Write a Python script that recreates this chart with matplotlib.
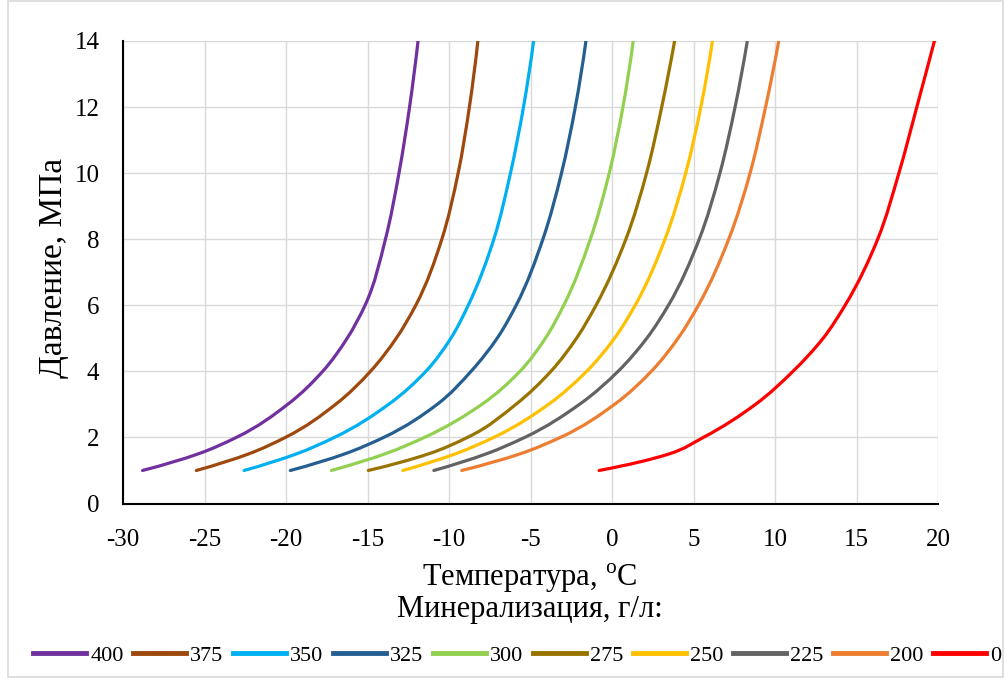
import matplotlib
matplotlib.use("Agg")
import matplotlib.pyplot as plt
from matplotlib.patches import Rectangle, PathPatch
from matplotlib.path import Path
from matplotlib.lines import Line2D

plt.rcParams['font.family'] = ['Liberation Serif', 'DejaVu Serif']
plt.rcParams['mathtext.fontset'] = 'custom'
plt.rcParams['mathtext.rm'] = 'Liberation Serif'
plt.rcParams['axes.unicode_minus'] = False

# Pressure levels (MPa) at which temperatures were read
pressure = [1, 1.5, 2, 3, 4, 5, 6, 8, 10, 12, 14]

# Temperature (°C) for each mineralization (g/l)
t_400 = [-28.8, -25.4, -23.05, -19.9, -17.75, -16.25, -15.15, -13.9, -13.07, -12.42, -11.9]
t_375 = [-25.5, -22.3, -20.04, -16.96, -14.82, -13.24, -12.04, -10.44, -9.44, -8.75, -8.23]
t_350 = [-22.57, -19.37, -17.03, -13.71, -11.42, -9.89, -8.82, -7.25, -6.23, -5.43, -4.81]
t_325 = [-19.73, -16.41, -14.01, -10.73, -8.65, -7.05, -5.88, -4.24, -3.1, -2.25, -1.6]
t_300 = [-17.22, -13.94, -11.51, -7.99, -5.65, -4.09, -2.96, -1.33, -0.17, 0.67, 1.3]
t_275 = [-14.95, -11.27, -8.87, -5.9, -3.75, -2.18, -0.98, 0.85, 2.12, 3.05, 3.84]
t_250 = [-12.83, -9.63, -7.26, -3.9, -1.56, 0.15, 1.42, 3.25, 4.52, 5.45, 6.16]
t_225 = [-10.93, -7.73, -5.36, -2.0, 0.37, 2.13, 3.46, 5.35, 6.62, 7.55, 8.3]
t_200 = [-9.22, -5.66, -3.17, 0.15, 2.41, 4.05, 5.3, 7.16, 8.47, 9.42, 10.23]
t_0 = [-0.79, 3.5, 5.6, 8.8, 11.1, 12.95, 14.3, 16.3, 17.6, 18.7, 19.78]

series_labels = ['400', '375', '350', '325', '300', '275', '250', '225', '200', '0']
series_temps = [t_400, t_375, t_350, t_325, t_300, t_275, t_250, t_225, t_200, t_0]
colors = ['#7030A0', '#9E480E', '#00B0F0', '#255E91', '#92D050',
          '#997300', '#FFC000', '#636363', '#ED7D31', '#FF0000']

x_ticks = [-30, -25, -20, -15, -10, -5, 0, 5, 10, 15, 20]
y_ticks = [0, 2, 4, 6, 8, 10, 12, 14]


def smooth_path(ts, ps):
    """Smoothed line (like Excel's smoothed scatter line) through the read points."""
    n = len(ps)
    h = [ps[i + 1] - ps[i] for i in range(n - 1)]
    s = [(ts[i + 1] - ts[i]) / h[i] for i in range(n - 1)]
    d = [0.0] * n
    for i in range(1, n - 1):
        d[i] = (s[i] * h[i - 1] + s[i - 1] * h[i]) / (h[i - 1] + h[i])
    d0 = ((2 * h[0] + h[1]) * s[0] - h[0] * s[1]) / (h[0] + h[1])
    d[0] = min(max(d0, 0.0), 3 * s[0])
    dn = ((2 * h[-1] + h[-2]) * s[-1] - h[-1] * s[-2]) / (h[-1] + h[-2])
    d[-1] = min(max(dn, 0.0), 3 * s[-1])
    verts = [(ts[0], ps[0])]
    codes = [Path.MOVETO]
    for i in range(n - 1):
        verts.append((ts[i] + d[i] * h[i] / 3, ps[i] + h[i] / 3))
        verts.append((ts[i + 1] - d[i + 1] * h[i] / 3, ps[i + 1] - h[i] / 3))
        verts.append((ts[i + 1], ps[i + 1]))
        codes += [Path.CURVE4] * 3
    return Path(verts, codes)


fig = plt.figure(figsize=(10.05, 6.78), dpi=100)
ax = fig.add_axes([123/1005, 1 - 503.5/678, (938-123)/1005, (503.5-41)/678])

handles = []
for lab, temps, c in zip(series_labels, series_temps, colors):
    patch = PathPatch(smooth_path(temps, pressure), facecolor='none',
                      edgecolor=c, lw=2.3, capstyle='round', joinstyle='round')
    ax.add_patch(patch)
    handles.append(Line2D([], [], color=c, lw=3.5, label=lab))

ax.set_xlim(-30, 20)
ax.set_ylim(0, 14)
ax.set_xticks(x_ticks)
ax.set_yticks(y_ticks)
ax.grid(True, color='#D9D9D9', lw=1.0)
ax.set_axisbelow(True)
for s in ['top', 'right']:
    ax.spines[s].set_visible(False)
for s in ['left', 'bottom']:
    ax.spines[s].set_color('black')
    ax.spines[s].set_linewidth(1.5)
ax.tick_params(axis='x', length=0, labelsize=18, pad=18)
ax.tick_params(axis='y', length=0, labelsize=18, pad=17)

ax.set_xlabel('Температура, $^\\mathrm{o}$C', fontsize=22)
ax.xaxis.set_label_coords((530-123)/815, -(562-503.5)/462.5)
ax.set_ylabel('Давление, МПа', fontsize=24)
ax.yaxis.set_label_coords((69-123)/815, (503.5-268)/462.5)

fig.text(530/1005, 1 - 609/678, 'Минерализация, г/л:', fontsize=22,
         ha='center', va='center')

leg = fig.legend(handles=handles, loc='center', bbox_to_anchor=(517/1005, 1 - 656/678),
                 ncol=10, frameon=False, fontsize=16, handlelength=2.4,
                 handletextpad=0.18, columnspacing=0.42, borderaxespad=0,
                 borderpad=0)

fig.patches.append(Rectangle((8/1005, 0.002), (1003-8)/1005, 0.996,
                             transform=fig.transFigure, fill=False,
                             edgecolor='#D9D9D9', lw=1.2))

fig.savefig('out.png', dpi=100)
